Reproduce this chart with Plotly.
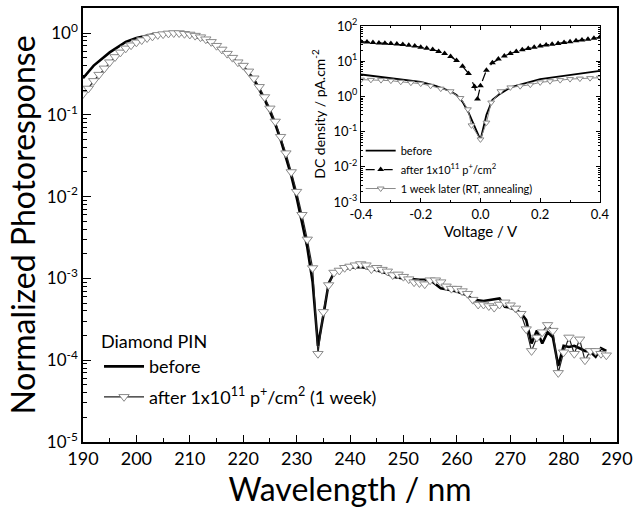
import plotly.graph_objects as go

# ---------------- main panel data ----------------
wl_before = [190, 192, 195, 198, 200, 203, 205, 207, 210, 213, 215, 217, 219, 220, 222, 224, 225,
             226, 227, 228, 229, 230, 231, 232, 233, 234, 235, 236, 237, 238, 240, 242, 244, 245,
             247, 248, 250, 252, 253, 255, 256, 257, 258, 260, 262, 263, 265, 267, 268, 269, 270,
             271, 272, 273, 274, 275, 276, 277, 278, 279, 280, 281, 282, 283, 284, 285, 286, 287, 288]
pr_before = [0.28, 0.40, 0.58, 0.78, 0.87, 0.96, 1.0, 1.0, 0.95, 0.82, 0.68, 0.55, 0.43, 0.38, 0.27,
             0.155, 0.11, 0.077, 0.05, 0.031, 0.018, 0.0098, 0.005, 0.0024, 0.0009, 0.00015, 0.00035,
             0.00087, 0.00117, 0.00128, 0.00135, 0.00138, 0.0013, 0.00126, 0.00115, 0.00105, 0.001,
             0.00097, 0.00096, 0.00096, 0.00085, 0.00076, 0.00074, 0.00069, 0.00062, 0.00055, 0.00053,
             0.00056, 0.00057, 0.00045, 0.00044, 0.00041, 0.00038, 0.00031, 0.00016, 0.00023, 0.00016,
             0.00022, 0.00019, 0.000085, 0.00015, 0.000145, 0.00015, 0.00014, 0.00013, 0.000127,
             0.00011, 0.00014, 0.00013]

wl_after = list(range(190, 289))
pr_after = [0.18, 0.21, 0.26, 0.31, 0.37, 0.44, 0.51, 0.58, 0.65, 0.71,
            0.77, 0.82, 0.87, 0.91, 0.95, 0.97, 0.99, 1.0, 1.0, 0.98,
            0.96, 0.93, 0.89, 0.84, 0.78, 0.70, 0.63, 0.56, 0.50, 0.44,
            0.40, 0.34, 0.28, 0.22, 0.165, 0.12, 0.083, 0.054, 0.034, 0.020,
            0.0115, 0.006, 0.003, 0.00134, 0.00012, 0.00039, 0.00083, 0.00118, 0.00125, 0.00135,
            0.0014, 0.00145, 0.0015, 0.00145, 0.0013, 0.00135, 0.00128, 0.00122, 0.0011, 0.00112,
            0.00105, 0.00098, 0.0009, 0.00088, 0.00085, 0.00095, 0.00095, 0.0009, 0.0008, 0.00075,
            0.00075, 0.0007, 0.00065, 0.00055, 0.00048, 0.00048, 0.00046, 0.00044, 0.00048, 0.00051,
            0.00047, 0.00043, 0.00037, 0.00024, 0.00013, 0.00019, 0.00022, 0.00027, 0.00023, 0.00007,
            0.000125, 0.00019, 0.00012, 0.00018, 0.0001, 0.00013, 0.00013, 0.00012, 0.000115]

# ---------------- inset data ----------------
v_before = [-0.4, -0.3, -0.2, -0.15, -0.1, -0.08, -0.06, -0.04, -0.02, 0.0, 0.02, 0.04, 0.06,
            0.1, 0.2, 0.3, 0.4]
dc_before = [4.2, 3.3, 2.6, 2.0, 1.4, 1.1, 0.7, 0.35, 0.14, 0.058, 0.3, 0.8, 1.1, 1.8, 3.1, 4.1, 5.3]

v_after = [-0.4, -0.38, -0.36, -0.34, -0.32, -0.3, -0.28, -0.26, -0.24, -0.22, -0.2, -0.18, -0.16,
           -0.14, -0.12, -0.1, -0.08, -0.06, -0.04, -0.02, -0.01, 0.0, 0.02, 0.04, 0.06, 0.08, 0.1,
           0.12, 0.14, 0.16, 0.18, 0.2, 0.22, 0.24, 0.26, 0.28, 0.3, 0.32, 0.34, 0.36, 0.38, 0.4]
dc_after = [36, 35, 34, 33, 32.5, 32, 31, 30, 28.5, 27, 25, 23.5, 21.5, 19, 16.5, 13.5, 10.5, 7.2,
            4.5, 1.9, 0.85, 2.0, 5.5, 9.0, 11.5, 14, 16.5, 19, 21, 23, 25, 27, 29, 30.5, 32, 34, 36,
            38, 40, 42, 45, 48]

v_week = [-0.4, -0.367, -0.333, -0.3, -0.267, -0.233, -0.2, -0.167, -0.133, -0.1, -0.067, -0.042,
          -0.03, 0.0, 0.02, 0.036, 0.067, 0.1, 0.133, 0.167, 0.2, 0.233, 0.267, 0.3, 0.333, 0.367, 0.4]
dc_week = [3.0, 2.95, 2.9, 2.8, 2.6, 2.45, 2.3, 2.0, 1.66, 1.4, 0.9, 0.43, 0.15, 0.06, 0.18, 0.67,
           1.4, 1.8, 1.95, 2.15, 2.5, 2.7, 2.9, 3.1, 3.2, 3.3, 3.4]

main_ytick_vals = [1e-5, 1e-4, 1e-3, 1e-2, 1e-1, 1]
main_ytick_text = ["10<sup>-5</sup>", "10<sup>-4</sup>", "10<sup>-3</sup>", "10<sup>-2</sup>",
                   "10<sup>-1</sup>", "10<sup>0</sup>"]
inset_ytick_vals = [1e-3, 1e-2, 1e-1, 1, 10, 100]
inset_ytick_text = ["10<sup>-3</sup>", "10<sup>-2</sup>", "10<sup>-1</sup>", "10<sup>0</sup>",
                    "10<sup>1</sup>", "10<sup>2</sup>"]

FONT = "Lato"
GRAY = "#8a8a8a"

minor_log = [m * 10 ** e for e in range(-6, 3) for m in range(2, 10)]

fig = go.Figure()

fig.add_trace(go.Scatter(x=wl_before, y=pr_before, mode="lines", name="before",
                         line=dict(color="black", width=2.6), legend="legend", legendgroup="a"))
fig.add_trace(go.Scatter(x=wl_after, y=pr_after, mode="lines+markers",
                         name="after 1x10<sup>11</sup> p<sup>+</sup>/cm<sup>2</sup> (1 week)",
                         line=dict(color="#222222", width=1.2),
                         marker=dict(symbol="triangle-down", size=9, color="white",
                                     line=dict(color=GRAY, width=1)),
                         legend="legend", legendgroup="b"))

fig.add_trace(go.Scatter(x=v_before, y=dc_before, mode="lines", name="before",
                         line=dict(color="black", width=1.8), xaxis="x2", yaxis="y2",
                         legend="legend2"))
fig.add_trace(go.Scatter(x=v_after, y=dc_after, mode="lines+markers",
                         name="after 1x10<sup>11</sup> p<sup>+</sup>/cm<sup>2</sup>",
                         line=dict(color="black", width=1.2, dash="dash"),
                         marker=dict(symbol="triangle-up", size=6, color="black"),
                         xaxis="x2", yaxis="y2", legend="legend2"))
fig.add_trace(go.Scatter(x=v_week, y=dc_week, mode="lines+markers",
                         name="1 week later (RT, annealing)",
                         line=dict(color=GRAY, width=1),
                         marker=dict(symbol="triangle-down", size=6, color="white",
                                     line=dict(color=GRAY, width=1)),
                         xaxis="x2", yaxis="y2", legend="legend2"))

fig.update_layout(
    width=634, height=508,
    margin=dict(l=83, r=17, t=8, b=66, autoexpand=False),
    paper_bgcolor="white", plot_bgcolor="white",
    font=dict(family=FONT, color="black"),
    xaxis=dict(range=[190, 290], domain=[0, 1], tickvals=list(range(190, 291, 10)),
               ticks="inside", ticklen=7, tickwidth=1.2, tickcolor="black",
               minor=dict(tickvals=list(range(195, 290, 10)), ticks="inside", ticklen=4,
                          tickcolor="black"),
               showline=True, linecolor="black", linewidth=1.5, mirror=True,
               showgrid=False, zeroline=False, automargin=False,
               tickfont=dict(size=18),
               title=dict(text="Wavelength / nm", font=dict(size=32), standoff=4)),
    yaxis=dict(type="log", range=[-5, 0.306], domain=[0, 1],
               tickvals=main_ytick_vals, ticktext=main_ytick_text,
               ticks="inside", ticklen=8, tickwidth=1.2, tickcolor="black",
               minor=dict(tickvals=minor_log, ticks="inside", ticklen=4, tickcolor="black"),
               showline=True, linecolor="black", linewidth=1.5, mirror=True,
               showgrid=False, zeroline=False, automargin=False,
               tickfont=dict(size=17),
               title=dict(text="Normalized Photoresponse", font=dict(size=32), standoff=2)),
    xaxis2=dict(range=[-0.4, 0.4], domain=[0.5206, 0.968], anchor="y2",
                tickvals=[-0.4, -0.2, 0.0, 0.2, 0.4], ticktext=["-0.4", "-0.2", "0.0", "0.2", "0.4"],
                ticks="inside", ticklen=4, tickcolor="black",
                minor=dict(tickvals=[-0.3, -0.1, 0.1, 0.3], ticks="inside", ticklen=2,
                           tickcolor="black"),
                showline=True, linecolor="black", linewidth=1.2, mirror="ticks",
                showgrid=False, zeroline=False, automargin=False, tickfont=dict(size=13),
                title=dict(text="Voltage / V", font=dict(size=15), standoff=0)),
    yaxis2=dict(type="log", range=[-3, 2], domain=[0.553, 0.9585], anchor="x2",
                tickvals=inset_ytick_vals, ticktext=inset_ytick_text,
                ticks="inside", ticklen=4, tickcolor="black",
                minor=dict(tickvals=minor_log, ticks="inside", ticklen=2, tickcolor="black"),
                showline=True, linecolor="black", linewidth=1.2, mirror="ticks",
                showgrid=False, zeroline=False, automargin=False, tickfont=dict(size=13),
                title=dict(text="DC density / pA.cm<sup>-2</sup>", font=dict(size=14), standoff=4)),
    legend=dict(x=0.03, y=0.27, xanchor="left", yanchor="top",
                bgcolor="rgba(0,0,0,0)", font=dict(size=18),
                title=dict(text="Diamond PIN", font=dict(size=18)),
                tracegroupgap=4, itemwidth=40),
    legend2=dict(x=0.52, y=0.705, xanchor="left", yanchor="top",
                 bgcolor="rgba(0,0,0,0)", font=dict(size=11), itemwidth=30,
                 tracegroupgap=0),
)

fig.write_html("out.html", config={"displayModeBar": False},
               post_script="document.body.style.margin='0';document.body.style.padding='0';")
